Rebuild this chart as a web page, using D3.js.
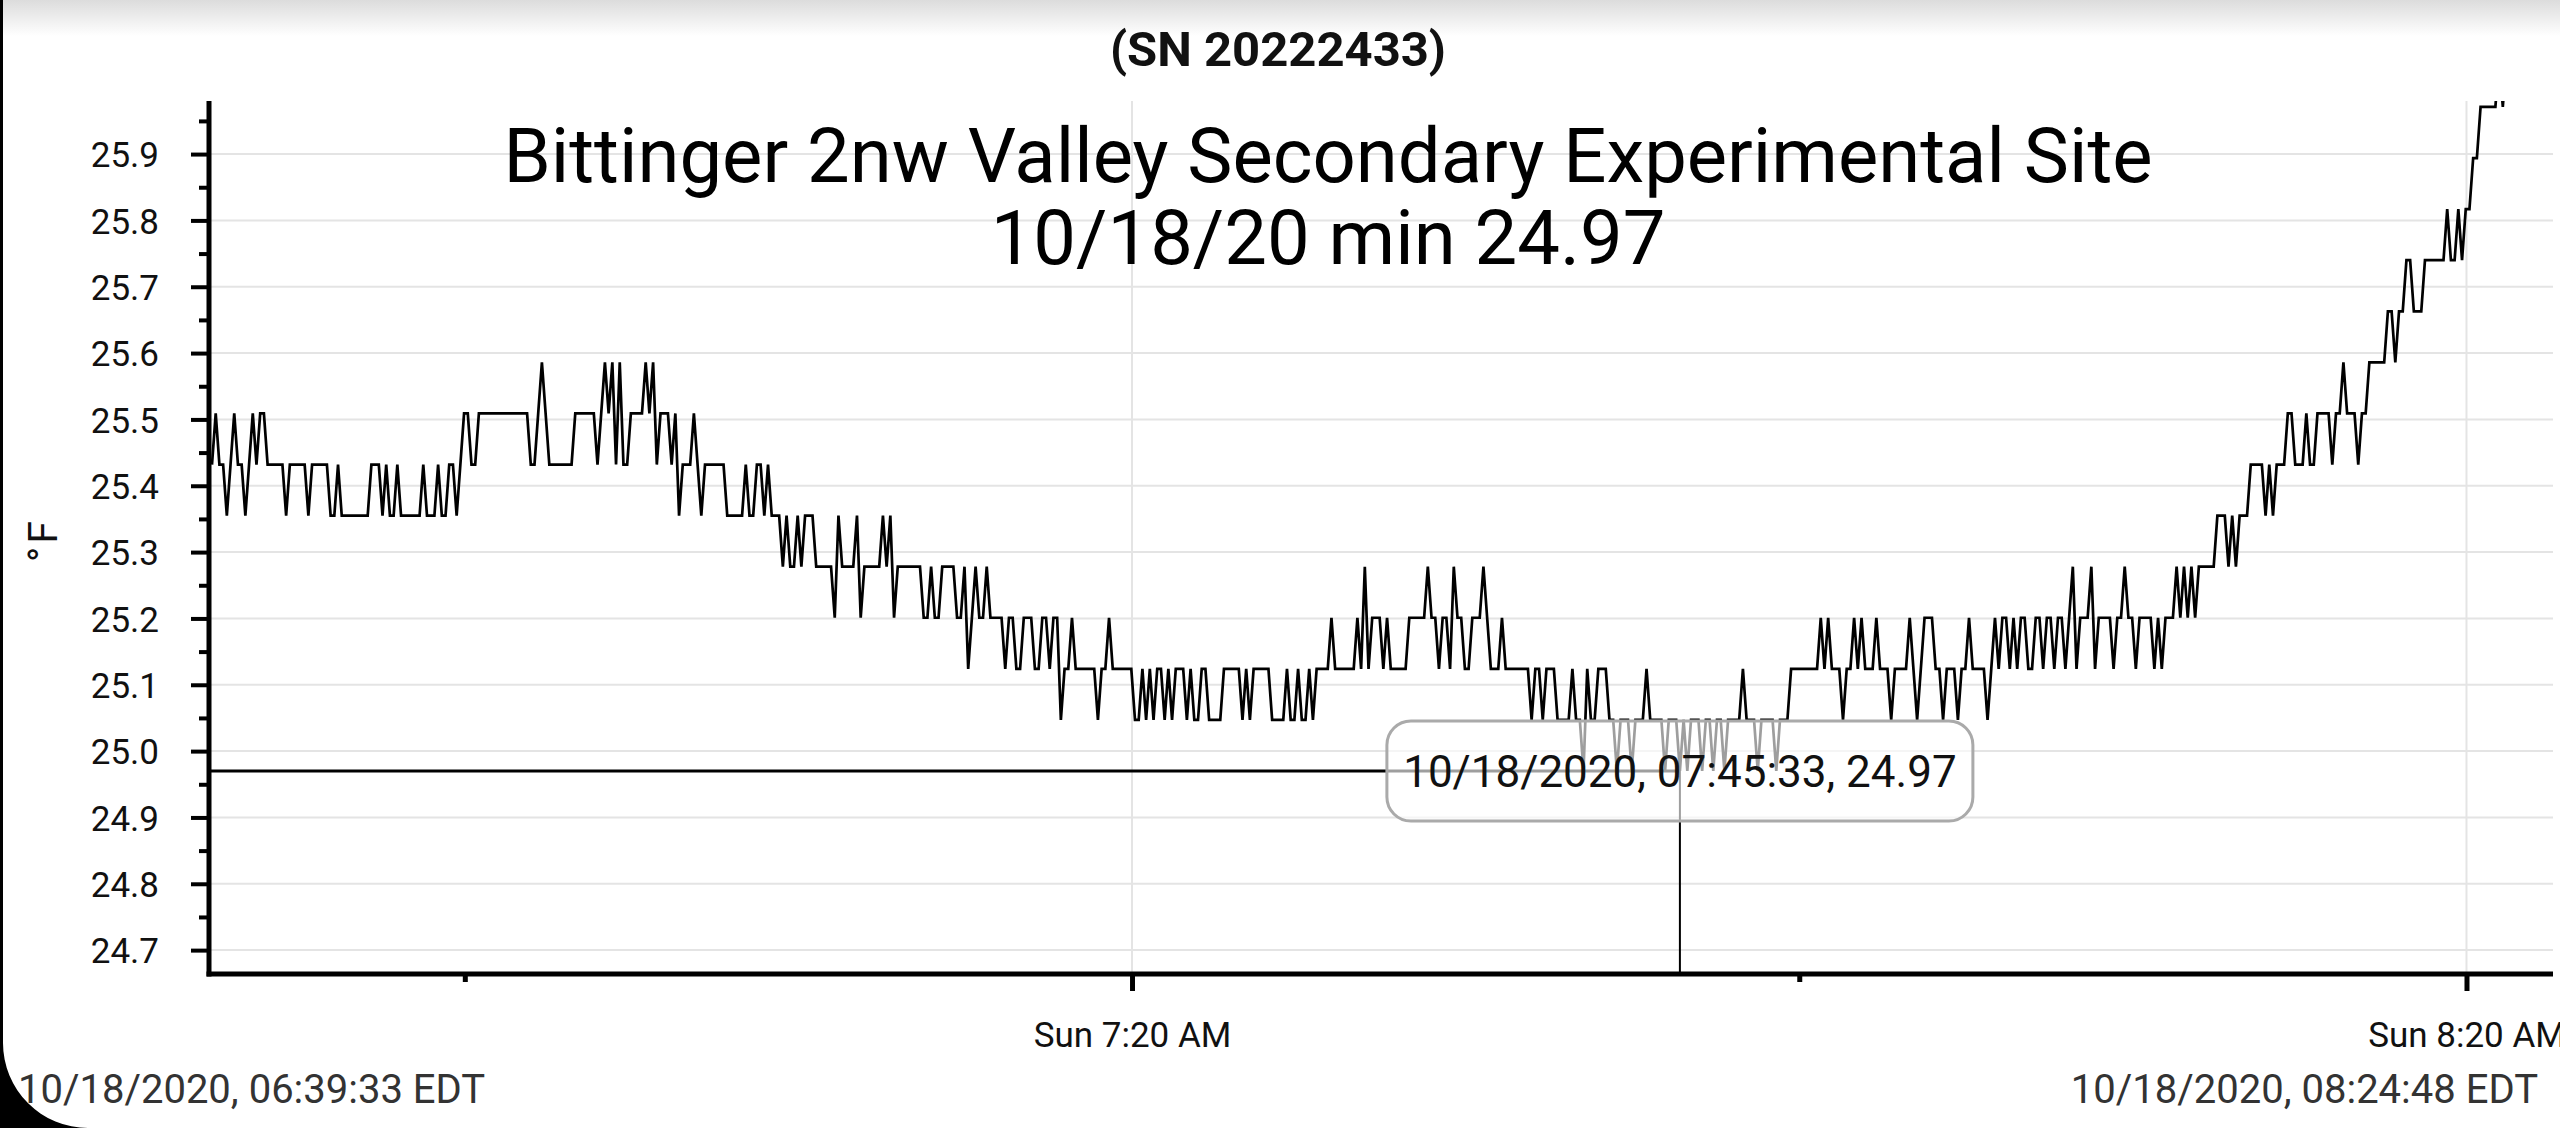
<!DOCTYPE html>
<html>
<head>
<meta charset="utf-8">
<script src="https://cdn.jsdelivr.net/npm/d3@7"></script>
<style>
  html, body { margin: 0; padding: 0; background: #fff; overflow: hidden; }
  svg { display: block; font-family: Roboto, "Noto Sans", sans-serif; }
</style>
</head>
<body>
<svg id="chart" width="2560" height="1128"></svg>
<script>
// ── data ──
const sensorSN   = '(SN 20222433)';
const siteName   = 'Bittinger 2nw Valley Secondary Experimental Site';
const dayLabel   = '10/18/20';
const startStamp = '10/18/2020, 06:39:33 EDT';
const endStamp   = '10/18/2020, 08:24:48 EDT';
const startTime  = '2020-10-18 06:39:33';
const sampleSec  = 10;

// sensor resolution steps (°F); readings below are indexes into this list (hex digit)
const levels = [24.970, 25.047, 25.124, 25.201, 25.278, 25.355, 25.432,
                25.509, 25.586, 25.663, 25.740, 25.817, 25.894, 25.971, 26.048];

const readings = [
  // 06:39:33 →
  '6766567665', '6767766666', '5666665666', '6655655555', '5556665655',
  '6555555655', '5655665677', '6677777777',
  '7777776678', '7666666677', '7777678786', '8667777878', '6777675666',
  '7656666665', '5555655665', '65554544',
  '5455544444', '3544445344', '4445453444', '4444334334', '4443342343',
  '3433332332', '2333223323', '31223222',
  '2221223222', '2221121212', '2121222121', '1221111222', '2212122222',
  '1111211211', '2122223222', '22232423',
  '3323222223', '3333433233', '2433223334', '3222322222', '2212212221',
  '1112110211', '2221101110', '11121111',
  '0111010111', '0110110111', '1211101111', '0111222222', '2232322212',
  '2323222322', '2122223212', '33322122212',
  '2322221232', '3323233223', '3233233234', '2333423333', '2334332333',
  '3232333434', '3434444455', '5454555666',
  '6565666776', '6676677776', '7787776778', '888899899a', 'a999aaaaaa',
  'baababbccd', 'ddddedeeee', 'eeeeeeeee'
  // → 08:24:48
].join('');

const minReading = { time: '2020-10-18 07:45:33', value: 24.97, label: '10/18/2020, 07:45:33, 24.97' };

const yMajorTicks = [24.7, 24.8, 24.9, 25.0, 25.1, 25.2, 25.3, 25.4, 25.5, 25.6, 25.7, 25.8, 25.9];
const yMinorTicks = [24.75, 24.85, 24.95, 25.05, 25.15, 25.25, 25.35, 25.45, 25.55, 25.65, 25.75, 25.85, 25.95];
const xLabelTicks = ['2020-10-18 07:20:00', '2020-10-18 08:20:00'];
const xMinorTicks = ['2020-10-18 06:50:00', '2020-10-18 07:50:00'];
// the logger draws its time ticks a bit late relative to the samples
const axisLagSec = 55;

// ═══════════════════════════════════════════
//  SETUP
// ═══════════════════════════════════════════
const parseT = d3.timeParse('%Y-%m-%d %H:%M:%S');
const t0 = parseT(startTime);
const series = readings.split('').map((c, i) => ({
  t: d3.timeSecond.offset(t0, i * sampleSec),
  v: levels[parseInt(c, 16)]
}));

const plot = { left: 209, right: 2553, top: 101, bottom: 974 };

const x = d3.scaleTime()
  .domain([t0, series[series.length - 1].t])
  .range([212, 2551]);
const y = d3.scaleLinear()
  .domain([24.664, 25.98])
  .range([plot.bottom, plot.top]);

const svg = d3.select('#chart');
const defs = svg.append('defs');

const grad = defs.append('linearGradient').attr('id', 'topShade')
  .attr('x1', 0).attr('x2', 0).attr('y1', 0).attr('y2', 1);
grad.append('stop').attr('offset', 0).attr('stop-color', '#dcdcdc');
grad.append('stop').attr('offset', 1).attr('stop-color', '#ffffff');

defs.append('clipPath').attr('id', 'plotClip')
  .append('rect')
  .attr('x', plot.left).attr('y', plot.top)
  .attr('width', plot.right - plot.left).attr('height', plot.bottom - plot.top);

svg.append('rect').attr('width', 2560).attr('height', 1128).attr('fill', '#fff');
svg.append('rect').attr('width', 2560).attr('height', 36).attr('fill', 'url(#topShade)');

// ── grid ──
const shift = d => d3.timeSecond.offset(parseT(d), axisLagSec);

svg.append('g').selectAll('line').data(yMajorTicks).join('line')
  .attr('x1', plot.left).attr('x2', plot.right)
  .attr('y1', d => y(d)).attr('y2', d => y(d))
  .attr('stroke', '#e4e4e4').attr('stroke-width', 2);

svg.append('g').selectAll('line').data(xLabelTicks).join('line')
  .attr('x1', d => x(shift(d))).attr('x2', d => x(shift(d)))
  .attr('y1', plot.top).attr('y2', plot.bottom)
  .attr('stroke', '#e4e4e4').attr('stroke-width', 2);

// ── data line ──
const line = d3.line().x(d => x(d.t)).y(d => y(d.v));
svg.append('path')
  .datum(series)
  .attr('clip-path', 'url(#plotClip)')
  .attr('d', line)
  .attr('fill', 'none')
  .attr('stroke', '#000')
  .attr('stroke-width', 2.7);

// ── crosshair on the minimum ──
const mx = x(parseT(minReading.time));
const my = y(minReading.value);
svg.append('line')
  .attr('x1', plot.left).attr('x2', mx).attr('y1', my).attr('y2', my)
  .attr('stroke', '#000').attr('stroke-width', 3);
svg.append('line')
  .attr('x1', mx).attr('x2', mx).attr('y1', my).attr('y2', plot.bottom)
  .attr('stroke', '#000').attr('stroke-width', 2);

// ── axes ──
const yAxis = svg.append('g').attr('transform', `translate(${plot.left},0)`)
  .call(d3.axisLeft(y).tickValues(yMajorTicks).tickSize(18).tickSizeOuter(0)
    .tickPadding(32).tickFormat(d3.format('.1f')));
yAxis.select('.domain').remove();
yAxis.selectAll('.tick line').attr('stroke', '#000').attr('stroke-width', 4);
yAxis.selectAll('.tick text')
  .attr('font-size', 35).attr('fill', '#111').attr('dy', '0.36em')
  .style('font-family', 'Roboto');

const yMinor = svg.append('g').attr('transform', `translate(${plot.left},0)`)
  .call(d3.axisLeft(y).tickValues(yMinorTicks).tickSize(10).tickFormat(''));
yMinor.select('.domain').remove();
yMinor.selectAll('.tick line').attr('stroke', '#000').attr('stroke-width', 4);

const fmtTick = d3.timeFormat('%a %-I:%M %p');
const xAxis = svg.append('g').attr('transform', `translate(0,${plot.bottom})`)
  .call(d3.axisBottom(x).tickValues(xLabelTicks.map(shift)).tickSize(17).tickSizeOuter(0)
    .tickFormat(d => fmtTick(d3.timeSecond.offset(d, -axisLagSec))));
xAxis.select('.domain').remove();
xAxis.selectAll('.tick line').attr('stroke', '#000').attr('stroke-width', 5);
xAxis.selectAll('.tick text')
  .attr('font-size', 35).attr('fill', '#111').attr('y', 73).attr('dy', null)
  .style('font-family', 'Roboto');

const xMinor = svg.append('g').attr('transform', `translate(0,${plot.bottom})`)
  .call(d3.axisBottom(x).tickValues(xMinorTicks.map(shift)).tickSize(8).tickFormat(''));
xMinor.select('.domain').remove();
xMinor.selectAll('.tick line').attr('stroke', '#000').attr('stroke-width', 5);

// axis lines
svg.append('line')
  .attr('x1', plot.left).attr('x2', plot.left).attr('y1', plot.top).attr('y2', plot.bottom + 2.5)
  .attr('stroke', '#000').attr('stroke-width', 5);
svg.append('line')
  .attr('x1', plot.left - 2.5).attr('x2', plot.right).attr('y1', plot.bottom).attr('y2', plot.bottom)
  .attr('stroke', '#000').attr('stroke-width', 5);

// ── tooltip box ──
const tipW = 586, tipH = 100;
svg.append('rect')
  .attr('x', mx - tipW / 2).attr('y', my - tipH / 2)
  .attr('width', tipW).attr('height', tipH)
  .attr('rx', 24).attr('ry', 24)
  .attr('fill', 'rgba(255,255,255,0.62)')
  .attr('stroke', '#aaa').attr('stroke-width', 3);
svg.append('text')
  .attr('x', mx).attr('y', my + 16)
  .attr('text-anchor', 'middle')
  .attr('font-size', 44).attr('fill', '#111')
  .text(minReading.label);

// ── titles ──
svg.append('text')
  .attr('x', 1278).attr('y', 66).attr('text-anchor', 'middle')
  .attr('font-size', 49).attr('font-weight', 'bold').attr('fill', '#111')
  .text(sensorSN);

const minVal = d3.min(series, d => d.v);
svg.append('text')
  .attr('x', 1328).attr('y', 182).attr('text-anchor', 'middle')
  .attr('font-size', 76).attr('fill', '#000')
  .text(siteName);
svg.append('text')
  .attr('x', 1328).attr('y', 264).attr('text-anchor', 'middle')
  .attr('font-size', 76).attr('fill', '#000')
  .text(`${dayLabel} min ${d3.format('.2f')(minVal)}`);

svg.append('text')
  .attr('transform', 'translate(57,540) rotate(-90)')
  .attr('text-anchor', 'middle')
  .attr('font-size', 41).attr('letter-spacing', 3).attr('fill', '#111')
  .text('°F');

// ── footer ──
svg.append('text')
  .attr('x', 18).attr('y', 1103)
  .attr('font-size', 40).attr('fill', '#333')
  .text(startStamp);
svg.append('text')
  .attr('x', 2538).attr('y', 1103).attr('text-anchor', 'end')
  .attr('font-size', 40).attr('fill', '#333')
  .text(endStamp);

// ── phone frame edge ──
svg.append('path')
  .attr('d', 'M0,0 H3 V1043 A85,85 0 0 0 88,1128 H0 Z')
  .attr('fill', '#000');
</script>
</body>
</html>
